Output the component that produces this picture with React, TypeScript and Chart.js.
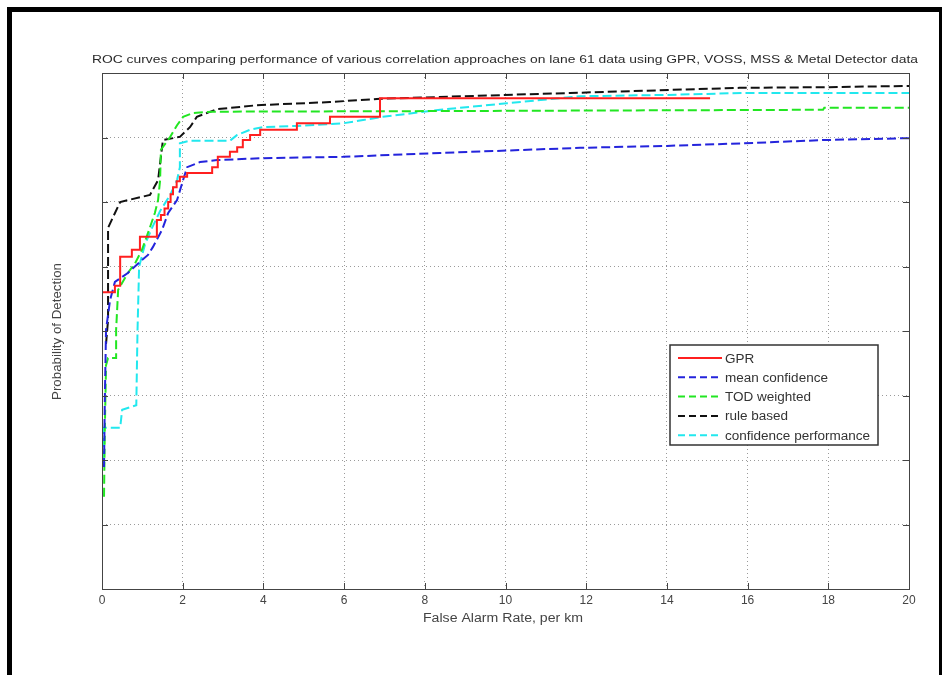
import React, { useEffect, useRef } from "react";
import { Chart, registerables } from "chart.js";

Chart.register(...registerables);

const TITLE =
  "ROC curves comparing performance of various correlation approaches on lane 61 data using GPR, VOSS, MSS & Metal Detector data";
const X_TITLE = "False Alarm Rate, per km";
const Y_TITLE = "Probability of Detection";

const X_MIN = 0;
const X_MAX = 20;
const X_STEP = 2;
const Y_MIN = 0.2;
const Y_MAX = 1.0;
const Y_STEP = 0.1;

const seriesLabels = ["GPR", "mean confidence", "TOD weighted", "rule based", "confidence performance"];

const gprX = [0, 0.32, 0.45, 0.74, 0.94, 1.36, 1.46, 1.55, 1.64, 1.7, 1.76, 1.85, 1.93, 2.11, 2.73, 2.87, 3.17, 3.35, 3.49, 3.67, 3.92, 4.83, 5.65, 6.89, 15.07];
const gprY = [0.66, 0.67, 0.715, 0.726, 0.746, 0.772, 0.78, 0.79, 0.8, 0.812, 0.823, 0.832, 0.839, 0.845, 0.854, 0.87, 0.878, 0.885, 0.896, 0.904, 0.912, 0.922, 0.932, 0.961, 0.961];

const meanX = [0.05, 0.07, 0.1, 0.2, 0.32, 0.64, 0.99, 1.14, 1.26, 1.49, 1.64, 1.86, 2.01, 2.11, 2.43, 2.85, 3.99, 5.97, 8.38, 11.85, 14.0, 15.89, 17.87, 20];
const meanY = [0.389, 0.493, 0.602, 0.648, 0.676, 0.69, 0.71, 0.718, 0.73, 0.757, 0.783, 0.803, 0.834, 0.854, 0.862, 0.865, 0.868, 0.87, 0.876, 0.884, 0.887, 0.891, 0.896, 0.899];

const todX = [0.05, 0.07, 0.1, 0.15, 0.35, 0.35, 0.4, 0.64, 0.82, 0.99, 1.14, 1.31, 1.39, 1.44, 1.46, 1.69, 1.86, 2.01, 2.26, 2.75, 8.38, 17.87, 17.9, 20];
const todY = [0.343, 0.447, 0.547, 0.558, 0.558, 0.602, 0.664, 0.69, 0.705, 0.726, 0.752, 0.783, 0.803, 0.834, 0.881, 0.901, 0.919, 0.932, 0.938, 0.94, 0.941, 0.943, 0.946, 0.946];

const ruleX = [0.1, 0.15, 0.15, 0.45, 1.19, 1.39, 1.51, 1.93, 2.18, 2.35, 2.85, 3.84, 5.65, 6.89, 11.6, 15.8, 17.97, 20];
const ruleY = [0.58, 0.617, 0.76, 0.8, 0.811, 0.834, 0.896, 0.901, 0.916, 0.932, 0.944, 0.95, 0.955, 0.96, 0.969, 0.977, 0.978, 0.98];

const confX = [0.03, 0.05, 0.45, 0.5, 0.85, 0.88, 0.92, 1.06, 1.24, 1.44, 1.69, 1.86, 1.93, 1.93, 2.18, 3.17, 3.35, 3.67, 3.99, 4.83, 5.97, 6.47, 6.96, 8.38, 10.04, 11.85, 14.0, 15.89, 20];
const confY = [0.4, 0.45, 0.45, 0.478, 0.485, 0.6, 0.7, 0.733, 0.76, 0.786, 0.811, 0.834, 0.854, 0.891, 0.895, 0.895, 0.904, 0.912, 0.916, 0.918, 0.922, 0.927, 0.932, 0.943, 0.953, 0.964, 0.966, 0.969, 0.969];

const colors = ["#ff1f1f", "#2424dc", "#22e622", "#111111", "#22e8ee"];
const dashes: number[][] = [[], [9, 4], [9, 4], [9, 4], [9, 4]];

const FONT = "'Liberation Sans', Arial, sans-serif";

function pts(xs: number[], ys: number[]) {
  return xs.map((x, i) => ({ x, y: ys[i] }));
}

function fitText(
  ctx: CanvasRenderingContext2D,
  text: string,
  x: number,
  y: number,
  width: number,
  size: number,
  color: string,
  align: CanvasTextAlign,
  rotate = 0
) {
  ctx.save();
  ctx.font = `${size}px ${FONT}`;
  const w = ctx.measureText(text).width;
  const sx = width / w;
  ctx.translate(x, y);
  if (rotate) ctx.rotate(rotate);
  ctx.scale(sx, 1);
  ctx.fillStyle = color;
  ctx.textAlign = align;
  ctx.textBaseline = "alphabetic";
  ctx.fillText(text, 0, 0);
  ctx.restore();
}

const decorPlugin = {
  id: "decor",
  afterDatasetsDraw(chart: any) {
    const ctx: CanvasRenderingContext2D = chart.ctx;
    const a = chart.chartArea;
    const xs = chart.scales.x;
    const ys = chart.scales.y;
    ctx.save();
    // axes box
    ctx.strokeStyle = "#444";
    ctx.lineWidth = 1;
    ctx.setLineDash([]);
    ctx.strokeRect(Math.round(a.left) + 0.5, Math.round(a.top) + 0.5, Math.round(a.right - a.left), Math.round(a.bottom - a.top));
    // inner tick marks
    ctx.beginPath();
    for (let v = X_MIN; v <= X_MAX + 1e-9; v += X_STEP) {
      const px = Math.round(xs.getPixelForValue(v)) + 0.5;
      ctx.moveTo(px, a.bottom);
      ctx.lineTo(px, a.bottom - 6);
      ctx.moveTo(px, a.top);
      ctx.lineTo(px, a.top + 6);
    }
    for (let v = Y_MIN; v <= Y_MAX + 1e-9; v += Y_STEP) {
      const py = Math.round(ys.getPixelForValue(v)) + 0.5;
      ctx.moveTo(a.left, py);
      ctx.lineTo(a.left + 6, py);
      ctx.moveTo(a.right, py);
      ctx.lineTo(a.right - 6, py);
    }
    ctx.stroke();

    // legend
    const lx = 670, ly = 345, lw = 208, lh = 100;
    ctx.fillStyle = "#fff";
    ctx.fillRect(lx, ly, lw, lh);
    ctx.strokeStyle = "#333";
    ctx.lineWidth = 1.5;
    ctx.strokeRect(lx, ly, lw, lh);
    ctx.font = `12.5px ${FONT}`;
    const ref = ctx.measureText(seriesLabels[4]).width;
    const lsx = 145 / ref;
    seriesLabels.forEach((lab, i) => {
      const cy = 358 + i * 19.3;
      ctx.strokeStyle = colors[i];
      ctx.lineWidth = 2;
      ctx.setLineDash(dashes[i].length ? [7, 4] : []);
      ctx.beginPath();
      ctx.moveTo(678, cy);
      ctx.lineTo(722, cy);
      ctx.stroke();
      ctx.setLineDash([]);
      ctx.save();
      ctx.translate(725, cy + 4.5);
      ctx.scale(lsx, 1);
      ctx.fillStyle = "#333";
      ctx.font = `12.5px ${FONT}`;
      ctx.textAlign = "left";
      ctx.textBaseline = "alphabetic";
      ctx.fillText(lab, 0, 0);
      ctx.restore();
    });

    // titles
    fitText(ctx, TITLE, 92, 63, 826, 11.5, "#2a2a2a", "left");
    fitText(ctx, X_TITLE, 423, 622, 160, 12.5, "#444", "left");
    fitText(ctx, Y_TITLE, 61, 400, 137, 12, "#444", "left", -Math.PI / 2);
    ctx.restore();
  },
};

export default function App() {
  const ref = useRef<HTMLCanvasElement | null>(null);
  useEffect(() => {
    document.body.style.margin = "0";
    const canvas = ref.current!;
    const xsArr = [gprX, meanX, todX, ruleX, confX];
    const ysArr = [gprY, meanY, todY, ruleY, confY];
    const chart = new Chart(canvas, {
      type: "line",
      data: {
        datasets: seriesLabels.map((label, i) => ({
          label,
          data: pts(xsArr[i], ysArr[i]),
          borderColor: colors[i],
          backgroundColor: colors[i],
          borderWidth: 2,
          borderDash: dashes[i],
          pointRadius: 0,
          fill: false,
          tension: 0,
          stepped: i === 0 ? "before" : false,
        })),
      },
      options: {
        animation: false,
        responsive: false,
        parsing: true,
        layout: { padding: { top: 73, right: 33, left: 0, bottom: 0 } },
        plugins: { legend: { display: false }, title: { display: false }, tooltip: { enabled: false } },
        scales: {
          x: {
            type: "linear",
            min: X_MIN,
            max: X_MAX,
            ticks: {
              stepSize: X_STEP,
              padding: 4,
              color: "#444",
              font: { family: FONT, size: 12 },
              maxRotation: 0,
            },
            grid: { color: "#9a9a9a", drawTicks: false, lineWidth: 1 },
            border: { display: false, dash: [1, 3] },
            afterFit: (s: any) => {
              s.height = 86;
            },
          },
          y: {
            type: "linear",
            min: Y_MIN,
            max: Y_MAX,
            ticks: { stepSize: Y_STEP, display: false },
            grid: { color: "#9a9a9a", drawTicks: false, lineWidth: 1 },
            border: { display: false, dash: [1, 3] },
            afterFit: (s: any) => {
              s.width = 102;
            },
          },
        },
      } as any,
      plugins: [decorPlugin],
    });
    return () => chart.destroy();
  }, []);
  return (
    <div style={{ position: "fixed", left: 0, top: 0, width: 942, height: 675, background: "#fff" }}>
      <div
        style={{
          position: "absolute",
          left: 7,
          top: 7,
          width: 935,
          height: 668,
          boxSizing: "border-box",
          borderLeft: "5px solid #000",
          borderTop: "5px solid #000",
          borderRight: "3px solid #000",
        }}
      />
      <canvas ref={ref} width={942} height={675} style={{ position: "absolute", left: 0, top: 0 }} />
    </div>
  );
}
